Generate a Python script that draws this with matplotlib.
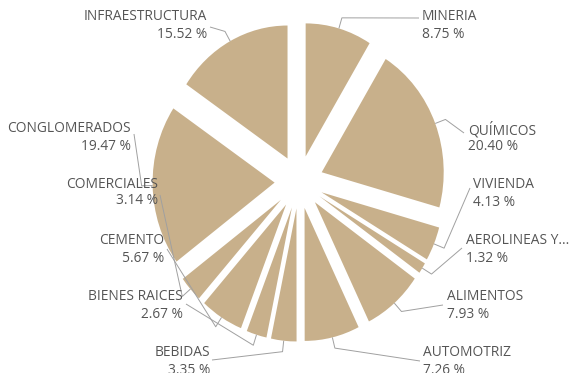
import numpy as np
import matplotlib.pyplot as plt

# Sector shares (%), clockwise from 12 o'clock
categories = ["MINERIA", "QUÍMICOS", "VIVIENDA", "AEROLINEAS Y...", "ALIMENTOS",
              "AUTOMOTRIZ", "BEBIDAS", "BIENES RAICES", "CEMENTO", "COMERCIALES",
              "CONGLOMERADOS", "INFRAESTRUCTURA"]
shares = [8.75, 20.40, 4.13, 1.32, 7.93, 7.26, 3.35, 2.67, 5.67, 3.14, 19.47, 15.52]

# Layout in pixel units
W, H = 571, 373
CX, CY = 299, 182          # pie centre
SX, SY = 122, 133          # pixels per unit radius (x, y)
EXPLODE = 0.2
TAN = "#C8B08B"
TEXT = "#555555"
LEADER = "#A0A0A0"
LINE_GAP = 17
FONT_SIZE = 9.9

# label anchor (x, y of first line, alignment) and leader end point
label_pos = [(422, 17, "left"), (468, 130, "left"), (473, 185, "left"),
             (466, 241, "left"), (447, 297, "left"), (423, 353, "left"),
             (210, 353, "right"), (183, 297, "right"), (164, 241, "right"),
             (158, 184, "right"), (131, 129, "right"), (207, 17, "right")]
leader_end = [(419, 18), (464, 133), (470, 188), (462, 248), (443, 305), (420, 361),
              (212, 360), (186, 304), (167, 249), (160, 195), (134, 134), (210, 27)]


def to_data(px, py):
    return (px - CX) / SX, (CY - py) / SY


plt.rcParams["font.family"] = ["Open Sans", "DejaVu Sans"]
fig = plt.figure(figsize=(W / 100, H / 100), dpi=100)
ax = fig.add_axes([0, 0, 1, 1])

n = len(shares)
ax.pie(shares, explode=[EXPLODE] * n, colors=[TAN] * n, startangle=90,
       counterclock=False, wedgeprops=dict(linewidth=0))
ax.set_aspect("auto")
ax.set_xlim(-CX / SX, (W - CX) / SX)
ax.set_ylim((CY - H) / SY, CY / SY)
ax.axis("off")

total = float(np.sum(shares))
cum = np.cumsum(shares)
for i, (name, val) in enumerate(zip(categories, shares)):
    mid = (cum[i] - val / 2) / total
    theta = np.deg2rad(90 - 360 * mid)
    # point on the outer arc of the exploded wedge
    ax0 = CX + (1 + EXPLODE) * SX * np.cos(theta)
    ay0 = CY - (1 + EXPLODE) * SY * np.sin(theta)
    ax1 = ax0 + 11 * np.cos(theta)
    ay1 = ay0 - 11 * np.sin(theta)
    ex, ey = leader_end[i]
    pts = [to_data(ax0, ay0), to_data(ax1, ay1), to_data(ex, ey)]
    ax.plot([p[0] for p in pts], [p[1] for p in pts], color=LEADER, lw=0.7,
            solid_capstyle="butt")

    lx, ly, ha = label_pos[i]
    tx, ty = to_data(lx, ly)
    ax.text(tx, ty, name, ha=ha, va="center", fontsize=FONT_SIZE, color=TEXT)
    tx, ty = to_data(lx, ly + LINE_GAP)
    ax.text(tx, ty, f"{val:.2f} %", ha=ha, va="center", fontsize=FONT_SIZE, color=TEXT)

fig.savefig("out.png", dpi=100)
